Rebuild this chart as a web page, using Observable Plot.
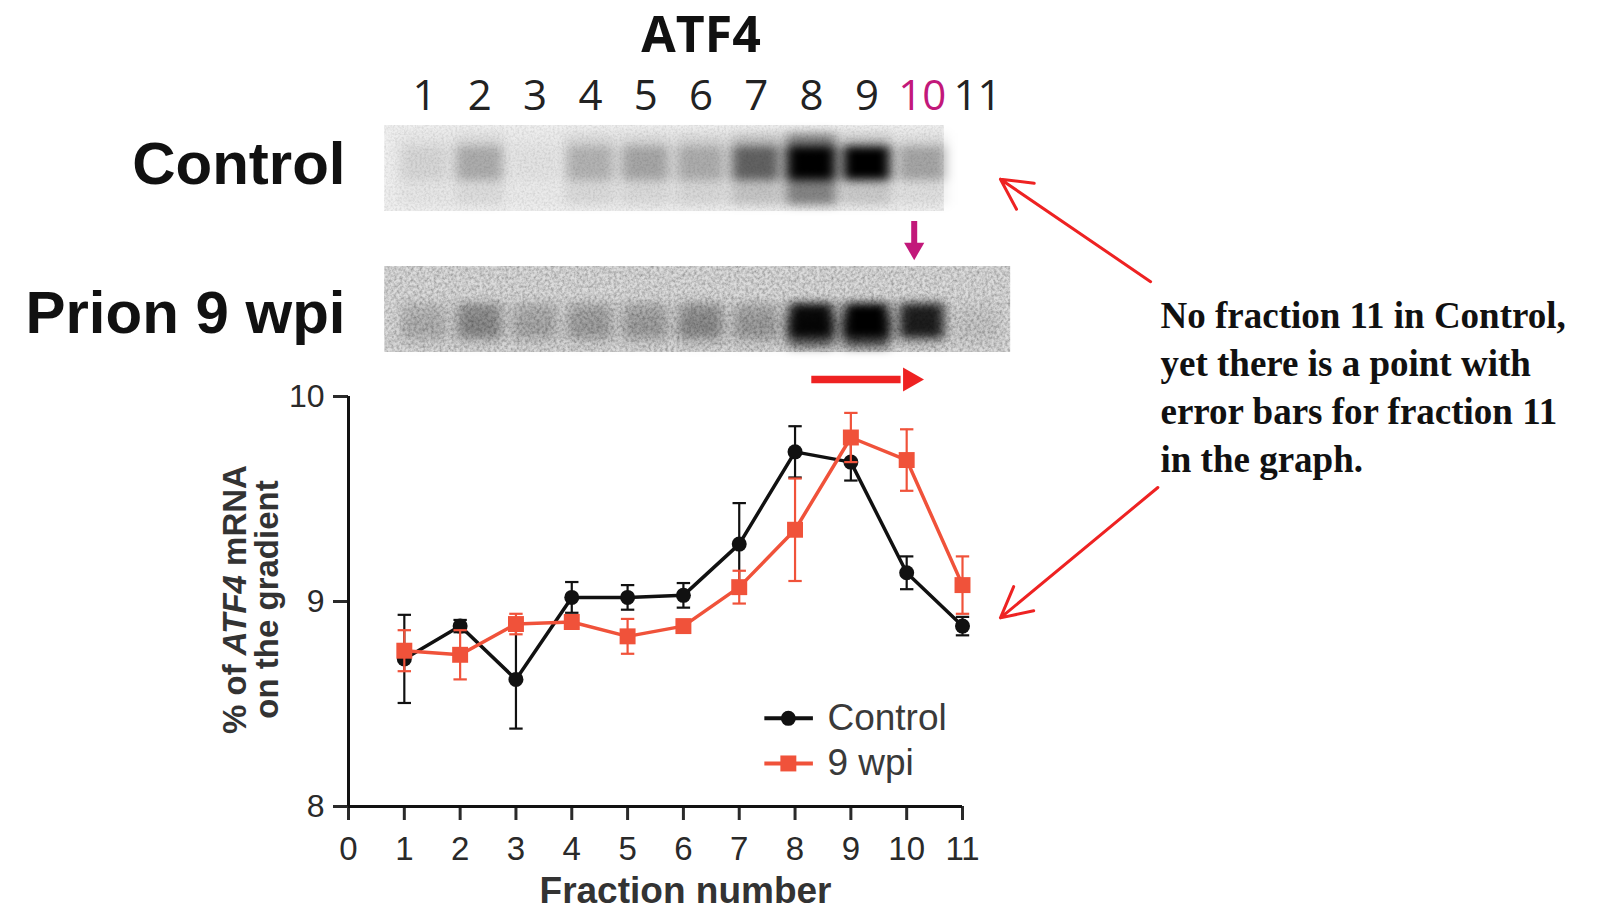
<!DOCTYPE html>
<html>
<head>
<meta charset="utf-8">
<script src="https://cdn.jsdelivr.net/npm/d3@7"></script>
<script src="https://cdn.jsdelivr.net/npm/@observablehq/plot@0.6"></script>
<style>
html, body { margin: 0; padding: 0; background: #fff; }
#fig { position: relative; width: 1597px; height: 923px; overflow: hidden; background: #fff; }
#fig svg { position: absolute; left: 0; top: 0; background: transparent; max-width: none; }
</style>
</head>
<body>
<div id="fig"></div>
<script>
// ---------- data ----------
const fractions = [1, 2, 3, 4, 5, 6, 7, 8, 9, 10, 11];
const controlMean = [8.72, 8.88, 8.62, 9.02, 9.02, 9.03, 9.28, 9.73, 9.68, 9.14, 8.88];
const controlSem  = [0.215, 0.03, 0.24, 0.075, 0.06, 0.06, 0.2, 0.125, 0.09, 0.08, 0.045];
const prionMean   = [8.76, 8.74, 8.89, 8.90, 8.83, 8.88, 9.07, 9.35, 9.80, 9.69, 9.08];
const prionSem    = [0.10, 0.12, 0.05, 0.03, 0.085, 0.03, 0.08, 0.25, 0.12, 0.15, 0.14];
const xTicks = [0, 1, 2, 3, 4, 5, 6, 7, 8, 9, 10, 11];
const yTicks = [8, 9, 10];
const seriesNames = ["Control", "9 wpi"];

const lanes = [1, 2, 3, 4, 5, 6, 7, 8, 9, 10, 11];
const highlightedLane = 10;
const blotRows = ["Control", "Prion 9 wpi"];
const blotTitle = "ATF4";
// band darkness per lane (0 = none, 1 = saturated); Control has no lane 11
const controlBand = [0.07, 0.22, 0.03, 0.18, 0.24, 0.2, 0.5, 1.0, 1.0, 0.26];
const controlSmear = [0.04, 0.08, 0.02, 0.09, 0.09, 0.1, 0.18, 0.45, 0.16, 0.07];
const prionBand = [0.14, 0.32, 0.18, 0.22, 0.22, 0.3, 0.22, 0.95, 1.0, 0.85, 0.05];
const prionSmear = [0.05, 0.06, 0.05, 0.06, 0.06, 0.08, 0.08, 0.5, 0.6, 0.1, 0.03];
const stripStart = [0.28, 0.28];
const stripEnd = [10.4, 11.6];
const shiftArrow = [8.3, 10.3];

const annotation = "No fraction 11 in Control,\nyet there is a point with\nerror bars for fraction 11\nin the graph.";
const callouts = [
  {x1: 14.37, y1: 10.56, x2: 11.68, y2: 11.06},
  {x1: 14.5, y1: 9.556, x2: 11.68, y2: 8.92}
];

// ---------- styling ----------
const W = 1597, H = 923;
const BLACK = "#111111";
const RED = "#f0523a";
const MAGENTA = "#c2187a";
const ARROW_RED = "#ee2222";
const sans = "'Liberation Sans', Arial, Helvetica, sans-serif";

const rows = (mean, sem) => fractions.map((f, i) => ({f, v: mean[i], lo: mean[i] - sem[i], hi: mean[i] + sem[i]}));
const ctrl = rows(controlMean, controlSem);
const prion = rows(prionMean, prionSem);

function seriesMarks(data, color, symbol, r, ew) {
  return [
    Plot.ruleX(data, {x: "f", y1: "lo", y2: "hi", stroke: color, strokeWidth: ew}),
    Plot.link(data, {x1: d => d.f - 0.12, x2: d => d.f + 0.12, y1: "hi", y2: "hi", stroke: color, strokeWidth: ew}),
    Plot.link(data, {x1: d => d.f - 0.12, x2: d => d.f + 0.12, y1: "lo", y2: "lo", stroke: color, strokeWidth: ew}),
    Plot.line(data, {x: "f", y: "v", stroke: color, strokeWidth: 3.5}),
    Plot.dot(data, {x: "f", y: "v", symbol, r, fill: color, stroke: "none"})
  ];
}

function legendMarks(name, i, color, symbol, r) {
  const ly = 8.43 - i * 0.22;
  return [
    Plot.link([name], {x1: () => 7.45, x2: () => 8.32, y1: () => ly, y2: () => ly, stroke: color, strokeWidth: 4}),
    Plot.dot([name], {x: () => 7.88, y: () => ly, symbol, r, fill: color, stroke: "none"}),
    Plot.text([name], {x: () => 8.58, y: () => ly, text: d => d, textAnchor: "start", fontSize: 37, fill: "#3a3a3a"})
  ];
}

// ---------- blot panel ----------
const bandData = (vals, smear, row) => vals.map((v, i) => ({lane: lanes[i], v, s: smear[i], row}));
const cBands = bandData(controlBand, controlSmear, blotRows[0]);
const pBands = bandData(prionBand, prionSmear, blotRows[1]);
const strips = blotRows.map((row, i) => ({row, x1: stripStart[i], x2: stripEnd[i]}));

const blot = Plot.plot({
  width: W, height: H,
  marginLeft: 424, marginRight: 620, marginTop: 124, marginBottom: 570,
  x: {domain: [1, 11], axis: null},
  y: {type: "band", domain: blotRows, paddingInner: 0.387, paddingOuter: 0, axis: null},
  style: {background: "transparent", fontFamily: sans},
  marks: [
    Plot.barX([strips[0]], {x1: "x1", x2: "x2", y: "row", fill: "#efefef"}),
    Plot.barX([strips[1]], {x1: "x1", x2: "x2", y: "row", fill: "#dcdcdc"}),
    Plot.barX(cBands, {x1: d => d.lane - 0.46, x2: d => d.lane + 0.46, y: "row", fill: "#000", fillOpacity: d => d.s, insetTop: 8, insetBottom: 6}),
    Plot.barX(cBands, {x1: d => d.lane - 0.42, x2: d => d.lane + 0.42, y: "row", fill: "#000", fillOpacity: d => d.v, insetTop: 21, insetBottom: 31}),
    Plot.barX(pBands, {x1: d => d.lane - 0.42, x2: d => d.lane + 0.42, y: "row", fill: "#000", fillOpacity: d => d.s, insetTop: 50, insetBottom: 4}),
    Plot.barX(pBands, {x1: d => d.lane - 0.4, x2: d => d.lane + 0.4, y: "row", fill: "#000", fillOpacity: d => d.v, insetTop: 37, insetBottom: 14}),
    // lane numbers and title
    Plot.text(lanes.filter(l => l !== highlightedLane), {x: d => d, text: d => String(d), frameAnchor: "top", dy: -44, fontSize: 42, fontFamily: "'Open Sans', sans-serif", fill: "#222"}),
    Plot.text([highlightedLane], {x: d => d, text: d => String(d), frameAnchor: "top", dy: -44, fontSize: 42, fontFamily: "'Open Sans', sans-serif", fill: MAGENTA}),
    Plot.text([blotTitle], {x: () => d3.median(lanes), text: d => d, frameAnchor: "top", dy: -108, fontSize: 50, fontWeight: "bold", fontFamily: "'Open Sans', sans-serif", fill: "#111"}),
    // row labels
    Plot.text([blotRows[0]], {text: d => d, frameAnchor: "top-left", dx: -79, dy: 40, textAnchor: "end", lineAnchor: "middle", fontSize: 60, fontWeight: "bold", fill: "#111"}),
    Plot.text([blotRows[1]], {text: d => d, frameAnchor: "top-left", dx: -79, dy: 189, textAnchor: "end", lineAnchor: "middle", fontSize: 60, fontWeight: "bold", fill: "#111"}),
    // magenta arrow marking lane 10
    Plot.tickX([highlightedLane], {x: d => d, y: () => blotRows[1], dx: -8, insetTop: -45, insetBottom: 106, stroke: MAGENTA, strokeWidth: 6}),
    Plot.dot([highlightedLane], {x: d => d, frameAnchor: "top", dx: -8, dy: 124, symbol: "triangle", rotate: 180, r: 7.5, fill: MAGENTA, stroke: "none"})
  ]
});

// ---------- chart panel ----------
const chart = Plot.plot({
  width: W, height: H,
  marginLeft: 348, marginRight: 635, marginTop: 396, marginBottom: 117,
  x: {domain: [0, 11]},
  y: {domain: [8, 10]},
  style: {background: "transparent", fontFamily: sans},
  marks: [
    Plot.axisX(xTicks, {tickSize: 14, tickPadding: 16, strokeWidth: 3, fontSize: 33, color: "#2a2a2a", label: null, tickFormat: d => String(d)}),
    Plot.axisY(yTicks, {tickSize: 15, tickPadding: 9, strokeWidth: 3, fontSize: 32, color: "#2a2a2a", label: null, tickFormat: d => String(d)}),
    Plot.ruleX([0], {strokeWidth: 3, stroke: "#111"}),
    Plot.ruleY([8], {strokeWidth: 3, stroke: "#111"}),
    ...seriesMarks(ctrl, BLACK, "circle", 7.5, 2.2),
    ...seriesMarks(prion, RED, "square", 9, 2.2),
    ...legendMarks(seriesNames[0], 0, BLACK, "circle", 7.5),
    ...legendMarks(seriesNames[1], 1, RED, "square", 9),
    // axis titles
    Plot.text(["Fraction number"], {text: d => d, frameAnchor: "bottom", dx: 30, dy: 96, fontSize: 37, fontWeight: "bold", fill: "#333"}),
    Plot.text(["% of ATF4 mRNA"], {text: d => d, frameAnchor: "left", textAnchor: "middle", dx: -113, dy: -2, rotate: -90, fontSize: 33, fontWeight: "bold", fill: "#333"}),
    Plot.text(["on the gradient"], {text: d => d, frameAnchor: "left", textAnchor: "middle", dx: -81, dy: -2, rotate: -90, fontSize: 33, fontWeight: "bold", fill: "#333"}),
    // peak shift arrow
    Plot.ruleY([10], {x1: () => shiftArrow[0], x2: () => shiftArrow[1] - 0.4, dy: -17, stroke: ARROW_RED, strokeWidth: 7.5}),
    Plot.dot([shiftArrow[1]], {x: d => d - 0.24, y: () => 10, dy: -17, symbol: "triangle", rotate: 90, r: 9, fill: ARROW_RED, stroke: "none"}),
    // annotation
    Plot.text([annotation], {text: d => d, frameAnchor: "top-right", dx: 198, dy: -103, textAnchor: "start", lineAnchor: "top", lineHeight: 1.3, fontSize: 37, fontWeight: "bold", fontFamily: "'Liberation Serif', 'Times New Roman', serif", fill: "#111"}),
    Plot.arrow(callouts, {x1: "x1", y1: "y1", x2: "x2", y2: "y2", stroke: ARROW_RED, strokeWidth: 3, headLength: 17, headAngle: 55})
  ]
});

const fig = document.getElementById("fig");
fig.appendChild(blot);
fig.appendChild(chart);

// ---------- filters for the blot look (built as real SVG elements) ----------
const defs = d3.select(blot).insert("defs", ":first-child");
const blurF = defs.append("filter").attr("id", "blotBlur")
  .attr("filterUnits", "userSpaceOnUse").attr("x", 0).attr("y", 0).attr("width", W).attr("height", H);
blurF.append("feGaussianBlur").attr("stdDeviation", "6 5");

function grain(id, freq, octaves, seed, k, off) {
  const f = defs.append("filter").attr("id", id)
    .attr("filterUnits", "userSpaceOnUse").attr("x", 0).attr("y", 0).attr("width", W).attr("height", H);
  f.append("feTurbulence").attr("type", "fractalNoise").attr("baseFrequency", freq)
    .attr("numOctaves", octaves).attr("seed", seed).attr("result", "n");
  f.append("feColorMatrix").attr("in", "n").attr("type", "matrix")
    .attr("values", `0 0 0 0 0  0 0 0 0 0  0 0 0 0 0  ${k} 0 0 0 ${off}`).attr("result", "a");
  f.append("feComposite").attr("in", "a").attr("in2", "SourceGraphic").attr("operator", "in").attr("result", "g");
  const m = f.append("feMerge");
  m.append("feMergeNode").attr("in", "SourceGraphic");
  m.append("feMergeNode").attr("in", "g");
}
grain("grainSoft", 0.45, 2, 4, 0.45, -0.17);
grain("grainHeavy", 0.35, 3, 9, 1.0, -0.32);

const rectGroups = Array.from(blot.querySelectorAll("g")).filter(g => g.querySelector(":scope > rect") && !g.querySelector(":scope > g"));
if (rectGroups.length >= 6) {
  rectGroups[0].setAttribute("filter", "url(#grainSoft)");
  rectGroups[1].setAttribute("filter", "url(#grainHeavy)");
  for (let i = 2; i < 6; i++) rectGroups[i].setAttribute("filter", "url(#blotBlur)");
}

// italic gene name in the y-axis title
d3.select(chart).selectAll("text").filter(function () { return this.textContent === "% of ATF4 mRNA"; }).each(function () {
  const t = d3.select(this);
  t.text(null);
  t.append("tspan").text("% of ");
  t.append("tspan").attr("font-style", "italic").text("ATF4");
  t.append("tspan").text(" mRNA");
});
</script>
</body>
</html>
